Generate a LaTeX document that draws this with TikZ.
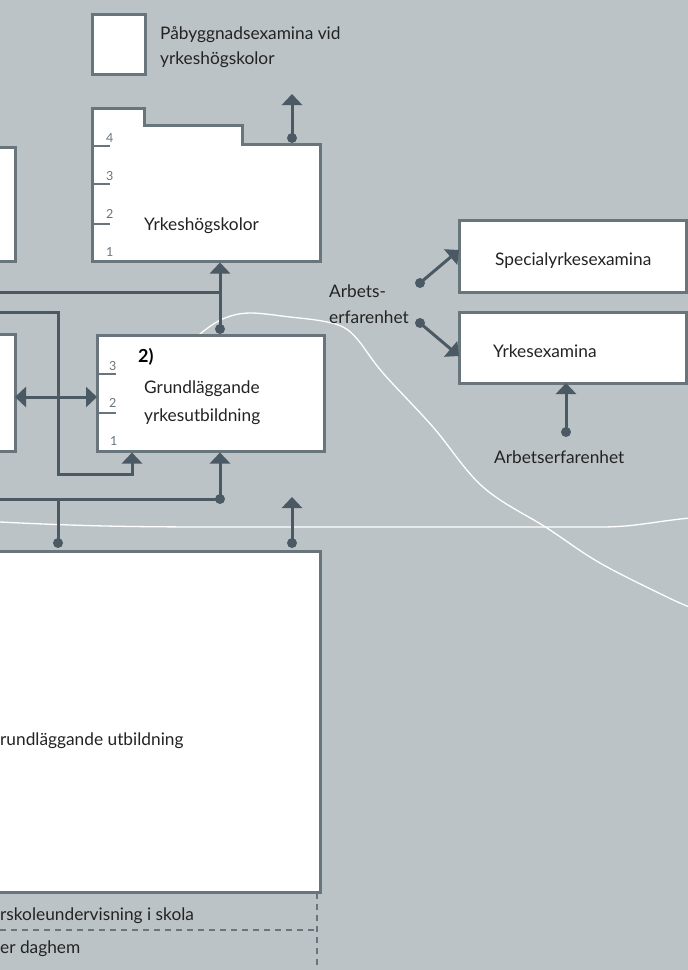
\documentclass[tikz,border=0pt]{standalone}
\usepackage{fontspec}
\setmainfont{Lato}
\usetikzlibrary{arrows.meta}
\definecolor{cbg}{RGB}{188,195,198}
\definecolor{cbord}{RGB}{104,117,125}
\definecolor{cdark}{RGB}{74,89,100}
\definecolor{ctext}{RGB}{35,35,35}
\newcommand{\lblfont}{\fontsize{17.3}{22}\selectfont}
\newcommand{\numfont}{\fontsize{12.5}{14}\selectfont}
\newcommand{\bigfont}{\fontsize{18}{22}\selectfont\bfseries}
\begin{document}
\begin{tikzpicture}[x=1pt,y=-1pt,
  box/.style={draw=cbord, line width=3pt, fill=white, inner sep=0pt, outer sep=0pt},
  conn/.style={draw=cdark, line width=3pt},
  arr/.style={conn, -{Triangle[width=20pt,length=11pt]}},
  dbl/.style={conn, {Triangle[width=20pt,length=11pt]}-{Triangle[width=20pt,length=11pt]}},
  tickl/.style={draw=cbord, line width=2pt},
  num/.style={text=cbord, font=\numfont, inner sep=0pt, anchor=base west},
  lbl/.style={text=ctext, font=\lblfont, inner sep=0pt, anchor=base west},
  wline/.style={draw=white, line width=1.3pt},
  dline/.style={draw=cbord, line width=2pt, dash pattern=on 6pt off 5pt}
]
\useasboundingbox (0,0) rectangle (688,970);
\clip (0,0) rectangle (688,970);
\fill[cbg] (0,0) rectangle (688,970);

% white curves
\draw[wline] (0,522) .. controls (100,527) and (150,527) .. (250,527) -- (600,527) .. controls (635,527) and (650,522) .. (690,518);
\draw[wline] plot[smooth, tension=0.6] coordinates {(185,348) (205,330) (225,318) (250,313) (290,317) (322,321) (343,327) (358,340) (383,373) (433,427) (483,487) (547,528) (600,563) (667,597) (692,608)};

% boxes
\node[box, minimum width=53pt, minimum height=60pt] (leg) at (118.5,44) {};
\draw[box, miter limit=10] (92,261) -- (92,108) -- (144,108) -- (144,125) -- (242,125) -- (242,144) -- (320,144) -- (320,261) -- cycle;
\node[box, minimum width=40pt, minimum height=114pt] (la) at (-5,204) {};
\node[box, minimum width=40pt, minimum height=117pt] (lb) at (-5,392.5) {};
\node[box, minimum width=227pt, minimum height=116pt] (gy) at (210.5,393) {};
\node[box, minimum width=340pt, minimum height=341pt] (gu) at (150,721.5) {};
\node[box, minimum width=227pt, minimum height=72pt] (sp) at (572.5,256) {};
\node[box, minimum width=227pt, minimum height=71pt] (yk) at (572.5,347.5) {};

% connector end points
\coordinate (d1) at (292,138);  \coordinate (t1) at (292,94);
\coordinate (d2) at (220,329);  \coordinate (yhb) at (220,262.5);
\coordinate (l1) at (0,292);    \coordinate (j1) at (220,292);
\coordinate (l2) at (0,312);
\coordinate (gyb1) at (132,452.5);
\coordinate (gyb2) at (220,452.5);
\coordinate (d3) at (220,499);  \coordinate (l3) at (0,499);
\coordinate (j3) at (58,499);   \coordinate (d4) at (58,543);
\coordinate (d5) at (292,543);  \coordinate (t5) at (292,497);
\coordinate (d6) at (420,283);  \coordinate (d7) at (420,323);
\coordinate (d8) at (566,432);

% connectors
\draw[arr] (d1) -- (t1);
\draw[conn] (l1) -- (j1);
\draw[arr] (d2) -- (yhb);
\draw[arr] (l2) -- (58,312) -- (58,474) -- (132,474) -- (gyb1);
\draw[dbl] (la.east |- 0,397) -- (gy.west |- 0,397);
\draw[conn] (l3) -- (d3);
\draw[arr] (d3) -- (gyb2);
\draw[conn] (j3) -- (d4);
\draw[arr] (d5) -- (t5);
\draw[arr] (d6) -- (sp.west |- 0,250) ;
\draw[arr] (d7) -- (yk.west |- 0,356);
\draw[arr] (d8) -- (yk.south -| d8);
\foreach \p in {d1,d2,d3,d4,d5,d6,d7,d8} \fill[cdark] (\p) circle (5pt);

% ticks
\draw[tickl] (92,146) -- (110,146);
\draw[tickl] (92,184) -- (110,184);
\draw[tickl] (92,224) -- (110,224);
\draw[tickl] (97,374) -- (116,374);
\draw[tickl] (97,413) -- (116,413);

% numbers
\node[num] (n4) at (106,142) {4};
\node[num] (n3) at (106,180) {3};
\node[num] (n2) at (106,218) {2};
\node[num] (n1) at (106,256) {1};
\node[num] (m3) at (109,370) {3};
\node[num] (m2) at (109,407) {2};
\node[num] (m1) at (110,445) {1};

% dashed lines
\draw[dline] (0,930) -- (317,930);
\draw[dline] (317,893) -- (317,970);

% labels
\node[lbl] (legA) at (160,39) {Påbyggnadsexamina vid};
\node[lbl] (legB) at (160,64) {yrkeshögskolor};
\node[lbl] (yhl) at (144,230) {Yrkeshögskolor};
\node[lbl, font=\bigfont, text=black] (two) at (138,362) {2)};
\node[lbl] (gyA) at (144,393) {Grundläggande};
\node[lbl] (gyB) at (144,421) {yrkesutbildning};
\node[lbl] (aeA) at (329,297) {Arbets-};
\node[lbl] (aeB) at (329,323) {erfarenhet};
\node[lbl] (spl) at (495,265) {Specialyrkesexamina};
\node[lbl] (ykl) at (493,357) {Yrkesexamina};
\node[lbl] (ae2) at (494,463) {Arbetserfarenhet};
\node[lbl] (gul) at (0,745) {rundläggande utbildning};
\node[lbl] (fsk) at (0,920) {rskoleundervisning i skola};
\node[lbl] (dag) at (0,953) {er daghem};
\end{tikzpicture}
\end{document}
